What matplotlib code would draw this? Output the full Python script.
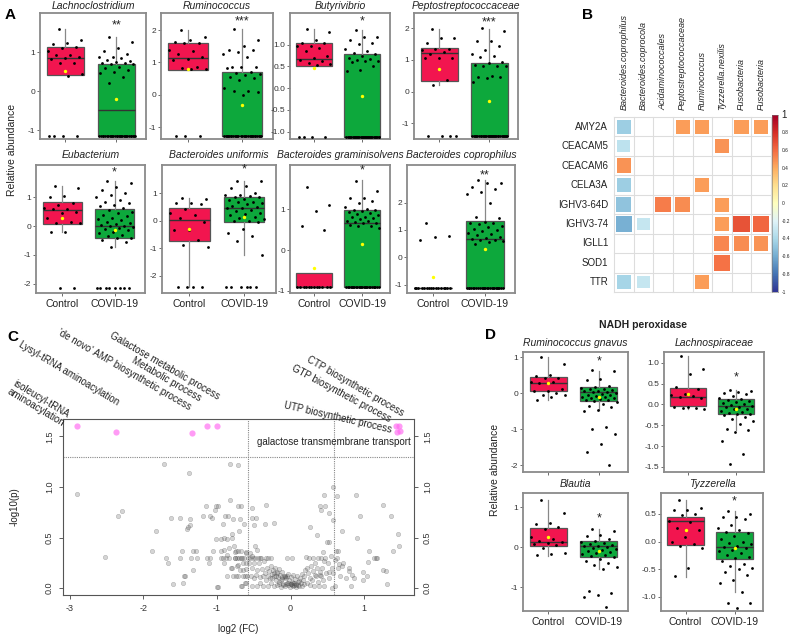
import numpy as np
import matplotlib
matplotlib.use("Agg")
import matplotlib.pyplot as plt
from matplotlib.patches import Rectangle

plt.rcParams['font.family'] = ['Liberation Sans', 'DejaVu Sans']

# ---------------- data: panel A ----------------
a_titles = ["Lachnoclostridium", "Ruminococcus", "Butyrivibrio", "Peptostreptococcaceae",
            "Eubacterium", "Bacteroides uniformis", "Bacteroides graminisolvens", "Bacteroides coprophilus"]
a_stars = ["**", "***", "*", "***", "*", "*", "*", "**"]
a_star_y = [1.69, 2.26, 1.53, 2.17, 1.86, 1.87, 1.94, 3.0]
a_ylim = [(-1.23, 2.0), (-1.37, 2.53), (-1.17, 1.73), (-1.49, 2.48),
          (-2.33, 2.13), (-2.63, 2.03), (-1.05, 2.08), (-1.3, 3.37)]
a_yticks = [[-1, 0, 1], [-1, 0, 1, 2], [-1, -0.5, 0, 0.5, 1], [-1, 0, 1, 2],
            [-2, -1, 0, 1], [-2, -1, 0, 1], [-1, 0, 1], [-1, 0, 1, 2]]

a_ctrl = [
    [1.59, 1.32, 1.24, 1.2, 1.13, 1.11, 1.03, 0.92, 0.92, 0.86, 0.85, 0.81, 0.73, 0.73, 0.44, 0.38, -1.15, -1.15, -1.15, -1.15],
    [2.0, 1.8, 1.68, 1.63, 1.6, 1.6, 1.37, 1.35, 1.27, 1.17, 1.1, 1.06, 0.87, 0.82, 0.8, 0.79, -1.28, -1.28, -1.28],
    [1.36, 1.3, 1.1, 1.05, 1.04, 0.98, 0.97, 0.93, 0.85, 0.75, 0.7, 0.65, 0.62, 0.58, 0.55, 0.53, -1.12, -1.12, -1.12, -1.12],
    [1.97, 1.7, 1.7, 1.55, 1.35, 1.35, 1.3, 1.25, 1.2, 1.07, 1.07, 1.05, 0.38, 0.21, -1.4, -1.4, -1.4, -1.4],
    [1.39, 1.33, 1.04, 1.0, 0.8, 0.73, 0.62, 0.6, 0.58, 0.48, 0.45, 0.3, 0.15, 0.1, 0.1, -0.2, -0.2, -2.14, -2.14],
    [0.84, 0.8, 0.66, 0.65, 0.6, 0.42, 0.3, 0.2, 0.1, -0.05, -0.33, -0.33, -0.7, -0.9, -0.97, -2.42, -2.42, -2.42, -2.42],
    [1.55, 1.1, 0.95, 0.6, 0.5] + [-0.9] * 12,
    [1.25, 0.78, 0.75, 0.62] + [-1.12] * 16,
]
a_covid = [
    [1.39, 1.25, 1.1, 1.02, 0.95, 0.88, 0.86, 0.85, 0.8, 0.78, 0.75, 0.73, 0.72, 0.7, 0.68, 0.62, 0.58, 0.55, 0.5, 0.45, 0.35, 0.2] + [-1.15] * 28,
    [2.03, 1.7, 1.5, 1.37, 1.37, 1.33, 1.27, 1.18, 0.87, 0.87, 0.85, 0.82, 0.69, 0.67, 0.65, 0.6, 0.55, 0.52, 0.45, 0.2, 0.12, 0.12, 0.1, 0.0] + [-1.28] * 28,
    [1.33, 1.17, 1.17, 1.12, 1.05, 1.02, 0.9, 0.85, 0.8, 0.78, 0.75, 0.7, 0.68, 0.65, 0.63, 0.62, 0.6, 0.5, 0.42, 0.4] + [-1.12] * 30,
    [2.0, 1.9, 1.6, 1.6, 1.45, 1.3, 1.2, 1.12, 1.1, 0.95, 0.9, 0.85, 0.82, 0.8, 0.8, 0.5, 0.47, 0.45, 0.43, 0.3] + [-1.4] * 30,
    [1.57, 1.5, 1.35, 1.25, 1.15, 1.1, 1.0, 0.9, 0.85, 0.8, 0.75, 0.7, 0.62, 0.55, 0.5, 0.45, 0.4, 0.35, 0.3, 0.25,
     0.2, 0.15, 0.1, 0.08, 0.05, 0.02, 0.0, -0.02, -0.05, -0.1, -0.15, -0.2, -0.25, -0.3, -0.35, -0.4, -0.42, -0.5, -0.55, -0.72] + [-2.14] * 8,
    [1.45, 1.45, 1.25, 1.2, 1.0, 0.95, 0.92, 0.9, 0.88, 0.85, 0.8, 0.75, 0.7, 0.68, 0.65, 0.6, 0.55, 0.5, 0.48, 0.45,
     0.4, 0.35, 0.3, 0.25, 0.2, 0.15, 0.1, 0.05, 0.0, -0.02, -0.05, -0.3, -0.45, -0.57, -0.72, -1.25] + [-2.42] * 6,
    [1.7, 1.45, 1.27, 1.27, 1.2, 1.15, 1.05, 1.0, 0.98, 0.97, 0.95, 0.93, 0.9, 0.88, 0.85, 0.82, 0.8, 0.78, 0.75, 0.72,
     0.7, 0.68, 0.66, 0.65, 0.62, 0.6, 0.58, 0.55] + [-0.9] * 25,
    [2.82, 2.72, 2.7, 2.55, 2.5, 2.4, 2.3, 2.0, 1.48, 1.42, 1.3, 1.25, 1.25, 1.2, 1.15, 1.1, 1.05, 1.0, 0.95, 0.9,
     0.85, 0.8, 0.75, 0.7, 0.68, 0.65, 0.62, 0.6, 0.55, 0.5] + [-1.12] * 25,
]
# box stats per group: (median, q1, q3, whisker low, whisker high, mean)
a_ctrl_stats = [(0.85, 0.40, 1.12, 0.40, 1.59, 0.52), (1.13, 0.77, 1.59, 0.77, 2.0, 0.79),
                (0.68, 0.51, 1.04, 0.51, 1.36, 0.47), (1.23, 0.34, 1.39, 0.21, 1.97, 0.71),
                (0.56, 0.09, 0.85, -0.2, 1.39, 0.30), (0.02, -0.74, 0.47, -2.42, 0.84, -0.30),
                (-0.9, -0.9, -0.56, -0.9, -0.56, -0.45), (-1.12, -1.12, -1.12, -1.12, -1.12, -0.71)]
a_covid_stats = [(-0.49, -1.15, 0.70, -1.15, 1.39, -0.21), (-1.28, -1.28, 0.71, -1.28, 2.03, -0.32),
                 (-1.12, -1.12, 0.78, -1.12, 1.35, -0.19), (-1.4, -1.4, 0.90, -1.4, 1.97, -0.28),
                 (0.02, -0.41, 0.58, -0.72, 1.57, -0.14), (0.47, -0.04, 0.87, -1.25, 1.45, 0.12),
                 (0.67, -0.9, 0.98, -0.9, 1.72, 0.15), (0.67, -1.12, 1.31, -1.12, 2.82, 0.31)]

# ---------------- data: panel B ----------------
b_cols = ["Bacteroides.coprophilus", "Bacteroides.coprocola", "Acidaminococcales", "Peptostreptococcaceae",
          "Ruminococcus", "Tyzzerella.nexilis", "Fusobacteria", "Fusobacteria"]
b_rows = ["AMY2A", "CEACAM5", "CEACAM6", "CELA3A", "IGHV3-64D", "IGHV3-74", "IGLL1", "SOD1", "TTR"]
nan = np.nan
b_corr = [
    [-0.45, nan, nan, 0.45, 0.45, nan, 0.45, 0.45],
    [-0.33, nan, nan, nan, nan, 0.48, nan, nan],
    [0.48, nan, nan, nan, nan, nan, nan, nan],
    [-0.45, nan, nan, nan, 0.45, nan, nan, nan],
    [-0.5, nan, 0.55, 0.5, nan, 0.45, nan, nan],
    [-0.58, -0.3, nan, nan, nan, 0.45, 0.68, 0.62],
    [nan, nan, nan, nan, nan, 0.52, 0.5, 0.48],
    [nan, nan, nan, nan, nan, 0.58, nan, nan],
    [-0.42, -0.3, nan, nan, 0.45, nan, nan, nan],
]
b_cbar_ticks = [1, 0.8, 0.6, 0.4, 0.2, 0, -0.2, -0.4, -0.6, -0.8, -1]

# ---------------- data: panel C ----------------
vol_pts = [
    (-2.91, 0.93), (-2.52, 0.31), (-2.34, 0.71), (-2.29, 0.76), (-1.89, 0.37), (-1.83, 0.56), (-1.72, 1.23),
    (-1.70, 0.30), (-1.67, 0.25), (-1.62, 0.69), (-1.60, 0.04), (-1.50, 0.69), (-1.50, 0.30), (-1.47, 0.37),
    (-1.46, 0.05), (-1.45, 0.12), (-1.44, 0.12), (-1.41, 0.58), (-1.39, 0.60), (-1.38, 1.14), (-1.37, 0.68),
    (-1.37, 0.62), (-1.35, 0.30), (-1.33, 0.18), (-1.33, 0.37), (-1.29, 0.37), (-1.27, 0.30), (-1.19, 0.71),
    (-1.15, 0.81), (-1.13, 0.30), (-1.11, 0.25), (-1.09, 0.30), (-1.09, 0.71), (-1.07, 0.69), (-1.05, 0.37),
    (-1.03, 0.77), (-1.02, 0.81), (-1.01, 0.49), (-1.00, 0.01), (-0.98, 0.01), (-0.98, 0.81), (-0.95, 0.30),
    (-0.95, 0.49), (-0.92, 0.63), (-0.91, 0.50), (-0.90, 0.38), (-0.89, 0.71), (-0.87, 0.49), (-0.86, 0.33),
    (-0.85, 0.71), (-0.82, 0.87), (-0.82, 1.23), (-0.81, 0.20), (-0.80, 0.53), (-0.79, 0.50), (-0.78, 0.68),
    (-0.77, 0.42), (-0.76, 0.30), (-0.75, 0.36), (-0.74, 0.12), (-0.73, 0.22), (-0.72, 0.37), (-0.71, 1.22),
    (-0.71, 0.81), (-0.70, 0.56), (-0.69, 0.68), (-0.68, 0.30), (-0.67, 0.81), (-0.66, 0.02), (-0.65, 0.18),
    (-0.63, 0.63), (-0.62, 0.12), (-0.61, 0.36), (-0.60, 0.25), (-0.60, 0.05),
    (-0.92, 0.30), (-0.90, 0.25), (-0.88, 0.30), (-0.86, 0.12), (-0.84, 0.30), (-0.80, 0.20), (-0.78, 0.12),
    (-0.76, 0.30), (-0.74, 0.37), (-0.72, 0.12), (-0.71, 0.23), (-0.70, 0.30), (-0.69, 0.18), (-0.68, 0.02),
    (-0.66, 0.30), (-0.65, 0.12), (-0.64, 0.25), (-0.63, 0.30), (-0.62, 0.05), (-0.61, 0.19), (-0.60, 0.35),
    (-0.59, 0.12), (-0.73, 0.30), (-0.67, 0.37), (-0.95, 0.37), (-0.83, 0.40),
    (-0.58, 0.30), (-0.56, 0.25), (-0.55, 0.30), (-0.54, 0.12), (-0.53, 0.02), (-0.52, 0.20), (-0.51, 0.30),
    (-0.50, 0.10), (-0.49, 0.25), (-0.48, 0.30), (-0.47, 0.13), (-0.46, 0.02), (-0.45, 0.18), (-0.44, 0.30),
    (-0.43, 0.25), (-0.42, 0.11), (-0.41, 0.05), (-0.40, 0.30), (-0.39, 0.19), (-0.38, 0.12), (-0.37, 0.02),
    (-0.36, 0.27), (-0.35, 0.15), (-0.34, 0.30), (-0.33, 0.08), (-0.32, 0.20), (-0.31, 0.12), (-0.30, 0.02),
    (-0.29, 0.17), (-0.28, 0.10), (-0.27, 0.22), (-0.26, 0.05), (-0.25, 0.14), (-0.24, 0.18), (-0.23, 0.02),
    (-0.22, 0.12), (-0.21, 0.20), (-0.20, 0.08), (-0.19, 0.15), (-0.18, 0.03), (-0.17, 0.11), (-0.16, 0.19),
    (-0.15, 0.06), (-0.14, 0.13), (-0.13, 0.01), (-0.12, 0.09), (-0.11, 0.16), (-0.10, 0.04), (-0.09, 0.12),
    (-0.08, 0.12), (-0.07, 0.02), (-0.06, 0.10), (-0.05, 0.05), (-0.04, 0.14), (-0.03, 0.03), (-0.02, 0.08),
    (-0.01, 0.01), (0.00, 0.11), (0.01, 0.04), (0.02, 0.06), (0.03, 0.13), (0.04, 0.02), (0.05, 0.05),
    (0.06, 0.09), (0.07, 0.01), (0.08, 0.04), (0.09, 0.12), (0.10, 0.03), (0.11, 0.07), (0.12, 0.02),
    (0.13, 0.10), (0.14, 0.05), (0.15, 0.14), (0.16, 0.02), (0.17, 0.08), (0.18, 0.12), (0.19, 0.04),
    (0.20, 0.18), (-0.22, 0.15), (-0.18, 0.16), (-0.12, 0.11), (-0.08, 0.11), (-0.05, 0.12), (-0.03, 0.05),
    (0.00, 0.04), (0.02, 0.03), (0.05, 0.03), (-0.15, 0.04), (-0.10, 0.03), (0.08, 0.03), (-0.20, 0.12),
    (-0.25, 0.10), (-0.13, 0.08), (0.03, 0.05), (-0.06, 0.04), (0.10, 0.06),
    (0.22, 0.20), (0.24, 0.15), (0.25, 0.30), (0.26, 0.10), (0.28, 0.22), (0.30, 0.17), (0.31, 0.30),
    (0.32, 0.02), (0.34, 0.25), (0.35, 0.12), (0.36, 0.20), (0.38, 0.30), (0.39, 0.02), (0.40, 0.16),
    (0.41, 0.30), (0.42, 0.12), (0.43, 0.20), (0.44, 0.36), (0.45, 0.27), (0.46, 0.02), (0.47, 0.30),
    (0.48, 0.15), (0.50, 0.46), (0.51, 0.25), (0.52, 0.16), (0.53, 0.10), (0.55, 0.32), (0.56, 0.20),
    (0.57, 0.00), (0.58, 0.15), (0.21, 0.31), (0.23, 0.05), (0.27, 0.03), (0.29, 0.08), (0.33, 0.13),
    (0.37, 0.06), (0.40, 0.13), (0.44, 0.08),
    (-0.55, 0.35), (-0.52, 0.32), (-0.48, 0.42), (-0.42, 0.30), (-0.45, 0.38), (-0.30, 0.30), (-0.05, 0.30),
    (0.02, 0.30), (-0.27, 0.30),
    (-0.53, 0.79), (-0.52, 0.69), (-0.47, 0.69), (-0.49, 0.62), (-0.35, 0.63), (-0.33, 0.82), (-0.23, 0.64),
    (0.27, 0.60), (0.36, 0.52), (0.40, 0.81), (0.42, 0.77), (0.47, 0.81), (0.46, 0.92), (0.52, 0.74),
    (0.58, 1.00), (0.52, 0.46), (0.63, 0.91), (0.58, 0.67),
    (0.62, 0.37), (0.65, 0.37), (0.63, 0.30), (0.60, 0.28), (0.66, 0.24), (0.68, 0.12), (0.72, 0.25),
    (0.75, 0.10), (0.79, 0.20), (0.80, 0.17), (0.82, 0.02), (0.84, 0.13), (0.87, 0.10), (0.89, 0.92),
    (0.91, 0.50), (0.95, 0.71), (0.98, 0.16), (0.99, 0.08), (1.04, 0.12), (1.07, 0.37), (1.06, 0.26),
    (1.13, 0.30), (1.16, 0.30), (1.18, 0.30), (1.26, 0.82), (1.26, 0.18), (1.30, 0.17), (1.31, 0.04),
    (1.37, 0.71), (1.40, 0.37), (1.46, 0.53), (1.47, 0.42), (0.61, 0.02), (0.64, 0.20), (0.70, 0.22),
    (0.70, 0.56),
]
sig_pts = [(-2.91, 1.60), (-2.37, 1.545), (-1.34, 1.53), (-1.14, 1.60), (-1.0, 1.60),
           (1.44, 1.60), (1.47, 1.60), (1.45, 1.545), (1.49, 1.55)]
# label text, anchor x, anchor y, rotation
c_labels = [
    ("isoleucyl-tRNA\naminoacylation", -3.12, 1.58, -31),
    ("Lysyl-tRNA aminoacylation", -2.34, 1.83, -31),
    ("'de novo' AMP biosynthetic process", -1.37, 1.78, -30),
    ("Galactose metabolic process", -0.98, 1.89, -30),
    ("Metabolic process", -1.23, 1.87, -30),
    ("CTP biosynthetic process", 1.535, 1.72, -30),
    ("GTP biosynthetic process", 1.354, 1.67, -28),
    ("UTP biosynthetic process", 1.377, 1.56, -13),
    ("galactose transmembrane transport", 1.63, 1.45, 0),
]

# ---------------- data: panel D ----------------
d_titles = ["Ruminococcus gnavus", "Lachnospiraceae", "Blautia", "Tyzzerella"]
d_star_y = [0.88, 0.66, 0.73, 0.73]
d_ylim = [(-2.19, 1.14), (-1.62, 1.26), (-1.6, 1.36), (-1.26, 0.88)]
d_yticks = [[-2, -1, 0, 1], [-1.5, -1, -0.5, 0, 0.5, 1], [-1, 0, 1], [-1, -0.5, 0, 0.5]]
d_ctrl = [
    [1.0, 0.8, 0.5, 0.48, 0.43, 0.42, 0.3, 0.3, 0.28, 0.1, 0.07, 0.05, 0.0, -0.05, -0.05, -0.1, -0.18],
    [1.16, 0.85, 0.72, 0.42, 0.38, 0.25, 0.22, 0.2, 0.18, 0.15, -0.05, -0.05, -0.08, -0.08, -0.1],
    [1.19, 0.87, 0.6, 0.58, 0.5, 0.45, 0.25, 0.2, 0.15, 0.12, 0.1, 0.08, 0.05, -0.03, -0.15, -0.18, -0.2],
    [0.76, 0.6, 0.58, 0.57, 0.5, 0.48, 0.38, 0.35, 0.25, 0.2, 0.08, 0.0, -0.05, -0.08, -0.12, -0.48, -0.62],
]
d_covid = [
    [0.63, 0.6, 0.4, 0.35, 0.2, 0.18, 0.15, 0.12, 0.1, 0.08, 0.06, 0.05, 0.03, 0.02, 0.0, -0.02, -0.04, -0.06, -0.08, -0.1,
     -0.12, -0.14, -0.15, -0.17, -0.19, -0.2, -0.22, -0.25, -0.3, -0.35, -0.4, -0.48, -0.5, -0.95, -1.0, -1.14, -1.42, -1.63, -2.0],
    [0.34, 0.32, 0.3, 0.28, 0.25, 0.2, 0.15, 0.12, 0.1, 0.08, 0.05, 0.03, 0.0, -0.02, -0.04, -0.05, -0.07, -0.1, -0.12, -0.15,
     -0.18, -0.2, -0.22, -0.24, -0.26, -0.3, -0.35, -0.4, -0.47, -0.6, -0.62, -0.65, -0.87, -1.2, -1.43],
    [0.45, 0.4, 0.3, 0.28, 0.2, 0.15, 0.12, 0.1, 0.08, 0.05, 0.03, 0.02, 0.0, -0.02, -0.05, -0.08, -0.1, -0.12, -0.15, -0.18,
     -0.2, -0.22, -0.25, -0.3, -0.35, -0.4, -0.45, -0.5, -0.55, -1.1, -1.15, -1.2, -1.25, -1.5],
    [0.55, 0.5, 0.45, 0.45, 0.4, 0.3, 0.25, 0.2, 0.18, 0.15, 0.1, 0.05, 0.0, -0.02, -0.05, -0.08, -0.1, -0.12, -0.15, -0.18,
     -0.2, -0.25, -0.28, -0.3, -0.35, -0.4, -0.45, -0.48, -0.5, -0.55, -0.6, -0.7, -0.75, -0.91, -1.12, -1.12, -1.2],
]
d_ctrl_stats = [(0.29, 0.05, 0.44, -0.18, 1.0, 0.28), (0.17, -0.04, 0.40, -0.1, 1.16, 0.26),
                (0.14, 0.03, 0.49, -0.22, 1.19, 0.25), (0.38, -0.07, 0.45, -0.64, 0.76, 0.21)]
d_covid_stats = [(0.02, -0.21, 0.17, -0.48, 0.61, -0.11), (-0.04, -0.24, 0.13, -0.62, 0.34, -0.11),
                 (0.02, -0.25, 0.16, -0.55, 0.45, -0.10), (-0.10, -0.31, 0.18, -0.91, 0.55, -0.11)]

groups = ["Control", "COVID-19"]

CTRL_COL = "#F2154F"
COVID_COL = "#0DA83C"
W, H = 790, 636

fig = plt.figure(figsize=(W / 100, H / 100), dpi=100)


def px_axes(x0, y0, x1, y1):
    return fig.add_axes([x0 / W, 1 - y1 / H, (x1 - x0) / W, (y1 - y0) / H])


def jitter(n):
    return ((np.arange(n) * 0.618034 + 0.31) % 1.0 - 0.5) * 0.72


def stat_dict(s):
    med, q1, q3, lo, hi, mean = s
    return dict(med=med, q1=q1, q3=q3, whislo=lo, whishi=hi, mean=mean, fliers=[])


def box_panel(ax, ctrl, covid, sc, sv, title, star, star_y, ylim, yticks, show_x, title_pad=3):
    bp = ax.bxp([stat_dict(sc), stat_dict(sv)], positions=[1, 2], widths=0.74, patch_artist=True,
                showfliers=False, showcaps=False, showmeans=False,
                boxprops=dict(edgecolor="#555555", lw=0.9),
                medianprops=dict(color="#333333", lw=1.0),
                whiskerprops=dict(color="#888888", lw=0.9), zorder=1)
    bp["boxes"][0].set_facecolor(CTRL_COL)
    bp["boxes"][1].set_facecolor(COVID_COL)
    for pos, vals in zip([1, 2], [ctrl, covid]):
        v = np.asarray(vals)
        ax.scatter(pos + jitter(len(v)), v, s=4, c="black", lw=0, zorder=3)
    ax.scatter([1, 2], [sc[5], sv[5]], s=6, c="#FFFF00", lw=0, zorder=4)
    ax.text(2, star_y, star, ha="center", va="center", fontsize=9, color="#222222")
    ax.set_xlim(0.5, 2.58)
    ax.set_ylim(*ylim)
    ax.set_yticks(yticks)
    if any(isinstance(t, float) and t != int(t) for t in yticks):
        ax.set_yticklabels([f"{t:.1f}" for t in yticks])
    else:
        ax.set_yticklabels([f"{t:g}" for t in yticks])
    ax.set_xticks([1, 2])
    ax.set_xticklabels(groups if show_x else ["", ""], fontsize=7.5, color="#222222")
    ax.tick_params(axis="y", labelsize=6, length=2, width=0.6, colors="#555555", labelcolor="#333333", pad=1.5)
    ax.tick_params(axis="x", length=2, width=0.6, colors="#555555", labelcolor="#222222", pad=2)
    for sp in ax.spines.values():
        sp.set_color("#8a8a8a")
        sp.set_linewidth(1.3)
    ax.set_title(title, fontsize=7.5, style="italic", pad=title_pad, color="#222222")


# ---------------- panel A ----------------
a_boxes = [(40, 13, 146, 139), (161, 13, 273, 139), (290, 13, 390, 139), (414, 13, 518, 139),
           (36, 165, 145, 293), (162, 165, 276, 293), (290, 165, 390, 293), (407, 165, 515, 293)]
for i, r in enumerate(a_boxes):
    ax = px_axes(*r)
    box_panel(ax, a_ctrl[i], a_covid[i], a_ctrl_stats[i], a_covid_stats[i], a_titles[i],
              a_stars[i], a_star_y[i], a_ylim[i], a_yticks[i], show_x=i >= 4,
              title_pad=3 if i < 4 else 5)
fig.text(12 / W, 1 - 150 / H, "Relative abundance", rotation=90, ha="center", va="center",
         fontsize=7.5, color="#222222")

# ---------------- panel B ----------------
axb = px_axes(614, 117, 771, 292)
cmap = plt.get_cmap("RdYlBu_r")
ncol, nrow = len(b_cols), len(b_rows)
axb.set_xlim(0, ncol)
axb.set_ylim(nrow, 0)
axb.axis("off")
for k in range(ncol + 1):
    axb.plot([k, k], [0, nrow], color="#DDDDDD", lw=0.8, zorder=0, clip_on=False)
for k in range(nrow + 1):
    axb.plot([0, ncol], [k, k], color="#DDDDDD", lw=0.8, zorder=0, clip_on=False)
corr = np.array(b_corr)
for i in range(nrow):
    for j in range(ncol):
        r = corr[i, j]
        if np.isnan(r):
            continue
        side = 0.45 + 0.6 * abs(r)
        axb.add_patch(Rectangle((j + 0.5 - side / 2, i + 0.5 - side / 2), side, side,
                                facecolor=cmap((r + 1) / 2), edgecolor="none", zorder=2))
for j, name in enumerate(b_cols):
    axb.text(j + 0.5, -0.35, name, rotation=90, ha="center", va="bottom", fontsize=6.5,
             style="italic", color="#222222", clip_on=False)
for i, name in enumerate(b_rows):
    axb.text(-0.3, i + 0.5, name, ha="right", va="center", fontsize=7, color="#222222", clip_on=False)

axc = px_axes(772, 115, 778, 292)
grad = np.linspace(1, -1, 200).reshape(-1, 1)
axc.imshow(grad, aspect="auto", cmap=cmap, vmin=-1, vmax=1, extent=[0, 1, -1, 1])
axc.set_xticks([])
axc.set_yticks([])
for sp in axc.spines.values():
    sp.set_linewidth(0.4)
    sp.set_color("#777777")
for t in b_cbar_ticks:
    axc.text(1.6, t, f"{t:g}", ha="left", va="center",
             fontsize=7 if t == 1 else 3.5, color="#222222", clip_on=False)

# ---------------- panel C ----------------
axv = px_axes(63, 419, 414, 595)
vp = np.array(vol_pts)
sp_ = np.array(sig_pts)
axv.scatter(vp[:, 0], vp[:, 1], s=10, facecolor=(0.35, 0.35, 0.35, 0.25),
            edgecolor=(0.2, 0.2, 0.2, 0.3), lw=0.4, zorder=2)
axv.scatter(sp_[:, 0], sp_[:, 1], s=20, c="#FF66F0", alpha=0.65, lw=0, zorder=3)
axv.axhline(-np.log10(0.05), color="#888888", ls=(0, (1, 1)), lw=0.8, zorder=1)
for xv in (-np.log2(1.5), np.log2(1.5)):
    axv.axvline(xv, color="#888888", ls=(0, (1, 1)), lw=0.8, zorder=1)
axv.set_xlim(-3.095, 1.68)
axv.set_ylim(-0.069, 1.673)
axv.set_xticks([-3, -2, -1, 0, 1])
axv.set_xticklabels(["-3", "-2", "-1", "0", "1"])
axv.set_yticks([0, 0.5, 1.0, 1.5])
axv.set_yticklabels(["0.0", "0.5", "1.0", "1.5"])
axv.tick_params(axis="both", labelsize=6.5, length=3, width=0.6, colors="#444444", labelcolor="#333333")
axv.tick_params(axis="y", right=True, labelright=True, labelrotation=90)
for t in axv.get_yticklabels():
    t.set_va("center")
for sp in axv.spines.values():
    sp.set_color("#555555")
    sp.set_linewidth(0.8)
axv.set_xlabel("log2 (FC)", fontsize=7, color="#222222", labelpad=8)
axv.set_ylabel("-log10(p)", fontsize=7, color="#222222", labelpad=18)
for text, x, y, rot in c_labels:
    va = "bottom" if "\n" in text else "center"
    axv.text(x, y, text, rotation=rot, rotation_mode="anchor", ha="right", va=va,
             multialignment="right", fontsize=7, color="#222222", clip_on=False, linespacing=1.0)

# ---------------- panel D ----------------
d_boxes = [(523, 352, 628, 472), (664, 352, 764, 472), (523, 493, 628, 611), (661, 493, 763, 611)]
for i, r in enumerate(d_boxes):
    ax = px_axes(*r)
    box_panel(ax, d_ctrl[i], d_covid[i], d_ctrl_stats[i], d_covid_stats[i], d_titles[i],
              "*", d_star_y[i], d_ylim[i], d_yticks[i], show_x=i >= 2, title_pad=4)
fig.text(495 / W, 1 - 470 / H, "Relative abundance", rotation=90, ha="center", va="center",
         fontsize=7.5, color="#222222")
fig.text(643 / W, 1 - 325 / H, "NADH peroxidase", ha="center", va="center", fontsize=7.5,
         fontweight="bold", color="#222222")

# panel letters
for lab, x, y in [("A", 5, 15), ("B", 582, 15), ("C", 7, 337), ("D", 485, 335)]:
    fig.text(x / W, 1 - y / H, lab, fontsize=11, fontweight="bold", ha="left", va="center")

fig.savefig("out.png", dpi=100)
